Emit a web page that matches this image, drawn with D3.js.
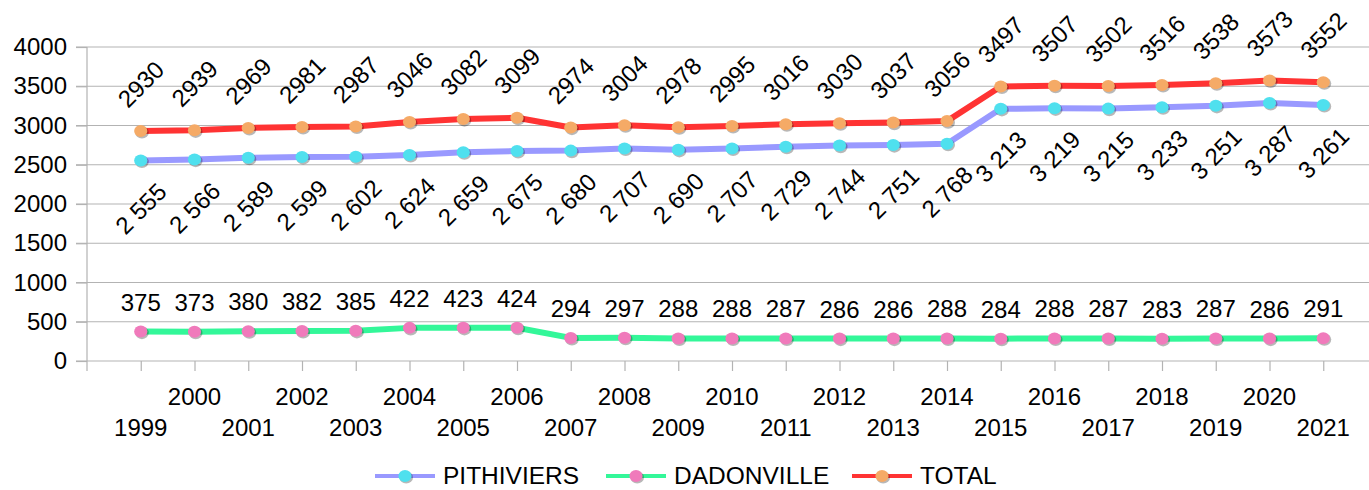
<!DOCTYPE html>
<html>
<head>
<meta charset="utf-8">
<script src="https://cdn.jsdelivr.net/npm/d3@7"></script>
<style>
  html, body { margin: 0; padding: 0; background: #fff; }
  svg { display: block; font-family: "Liberation Sans", Arial, sans-serif; }
</style>
</head>
<body>
<svg id="chart" width="1369" height="490"></svg>
<script>
const years = ["1999","2000","2001","2002","2003","2004","2005","2006","2007","2008","2009","2010","2011","2012","2013","2014","2015","2016","2017","2018","2019","2020","2021"];
const pithiviers = [2555,2566,2589,2599,2602,2624,2659,2675,2680,2707,2690,2707,2729,2744,2751,2768,3213,3219,3215,3233,3251,3287,3261];
const dadonville = [375,373,380,382,385,422,423,424,294,297,288,288,287,286,286,288,284,288,287,283,287,286,291];
const total = [2930,2939,2969,2981,2987,3046,3082,3099,2974,3004,2978,2995,3016,3030,3037,3056,3497,3507,3502,3516,3538,3573,3552];
const yTicks = [0,500,1000,1500,2000,2500,3000,3500,4000];
const seriesNames = ["PITHIVIERS","DADONVILLE","TOTAL"];

const series = [
  { name: seriesNames[0], values: pithiviers, line: "#9999ff", marker: "#4fe0ee", label: "below" },
  { name: seriesNames[1], values: dadonville, line: "#33f799", marker: "#f07abb", label: "above" },
  { name: seriesNames[2], values: total, line: "#ff3333", marker: "#f5aa66", label: "rotAbove" }
];

const svg = d3.select("#chart");
const plotLeft = 87, plotRight = 1377, plotTop = 47, plotBottom = 361;
const x = d3.scalePoint().domain(years).range([plotLeft, plotRight]).padding(1);
const y = d3.scaleLinear().domain([0, 4000]).range([plotBottom, plotTop]);
const gridColor = "#b3b3b3";

// gridlines
svg.append("g").selectAll("line").data(yTicks).join("line")
  .attr("x1", 76).attr("x2", 1369)
  .attr("y1", d => y(d)).attr("y2", d => y(d))
  .attr("stroke", gridColor).attr("stroke-width", 1.2);

// y axis
const yAxis = svg.append("g").attr("transform", `translate(${plotLeft},0)`)
  .call(d3.axisLeft(y).tickValues(yTicks).tickSize(11).tickPadding(9).tickFormat(d3.format("d")));
yAxis.select(".domain").attr("stroke", gridColor).attr("stroke-width", 1.2)
  .attr("d", `M0,${plotTop}V${plotBottom + 10}`);
yAxis.selectAll(".tick line").attr("stroke", gridColor).attr("stroke-width", 1.2);
yAxis.selectAll(".tick text").attr("font-size", 24).attr("fill", "#000")
  .attr("font-family", "Liberation Sans, Arial, sans-serif");

// x axis
const xAxis = svg.append("g").attr("transform", `translate(0,${plotBottom})`)
  .call(d3.axisBottom(x).tickSize(10).tickFormat(""));
xAxis.select(".domain").remove();
xAxis.selectAll(".tick line").attr("stroke", gridColor).attr("stroke-width", 1.2);
svg.append("g").selectAll("text").data(years).join("text")
  .attr("x", d => x(d))
  .attr("y", (d, i) => i % 2 === 0 ? 436 : 405)
  .attr("text-anchor", "middle")
  .attr("font-size", 24).attr("fill", "#000")
  .text(d => d);

// lines
const lineGen = d3.line().x((d, i) => x(years[i])).y(d => y(d));
series.forEach(s => {
  svg.append("path").datum(s.values)
    .attr("d", lineGen)
    .attr("fill", "none").attr("stroke", s.line)
    .attr("stroke-width", 6).attr("stroke-linejoin", "round");
});

// markers
function marker(g, cx, cy, color) {
  g.append("ellipse").attr("cx", cx + 1.2).attr("cy", cy + 1.4).attr("rx", 6.8).attr("ry", 6.2)
    .attr("fill", "#000").attr("opacity", 0.28);
  g.append("ellipse").attr("cx", cx).attr("cy", cy).attr("rx", 6.6).attr("ry", 6)
    .attr("fill", color);
}
series.forEach(s => {
  const g = svg.append("g");
  s.values.forEach((v, i) => marker(g, x(years[i]), y(v), s.marker));
});

// labels
const spaced = v => d3.format(",")(v).replace(",", " ");
series.forEach(s => {
  const g = svg.append("g").attr("font-size", 24).attr("fill", "#000");
  s.values.forEach((v, i) => {
    const cx = x(years[i]), cy = y(v);
    if (s.label === "above") {
      g.append("text").attr("x", cx).attr("y", cy - 21).attr("text-anchor", "middle").text(v);
    } else if (s.label === "rotAbove") {
      g.append("text").attr("transform", `translate(${cx},${cy - 47}) rotate(-45)`)
        .attr("text-anchor", "middle").attr("dy", "0.36em").text(v);
    } else {
      g.append("text").attr("transform", `translate(${cx},${cy + 48}) rotate(-45)`)
        .attr("text-anchor", "middle").attr("dy", "0.36em").text(spaced(v));
    }
  });
});

// legend
const legendItems = [
  { s: series[0], x0: 375 },
  { s: series[1], x0: 606 },
  { s: series[2], x0: 852 }
];
const lg = svg.append("g");
legendItems.forEach(it => {
  const ly = 476;
  lg.append("line").attr("x1", it.x0).attr("x2", it.x0 + 60).attr("y1", ly).attr("y2", ly)
    .attr("stroke", it.s.line).attr("stroke-width", 4);
  marker(lg, it.x0 + 30, ly, it.s.marker);
  lg.append("text").attr("x", it.x0 + 68).attr("y", 484).attr("font-size", 24.5)
    .attr("fill", "#000").text(it.s.name);
});
</script>
</body>
</html>
